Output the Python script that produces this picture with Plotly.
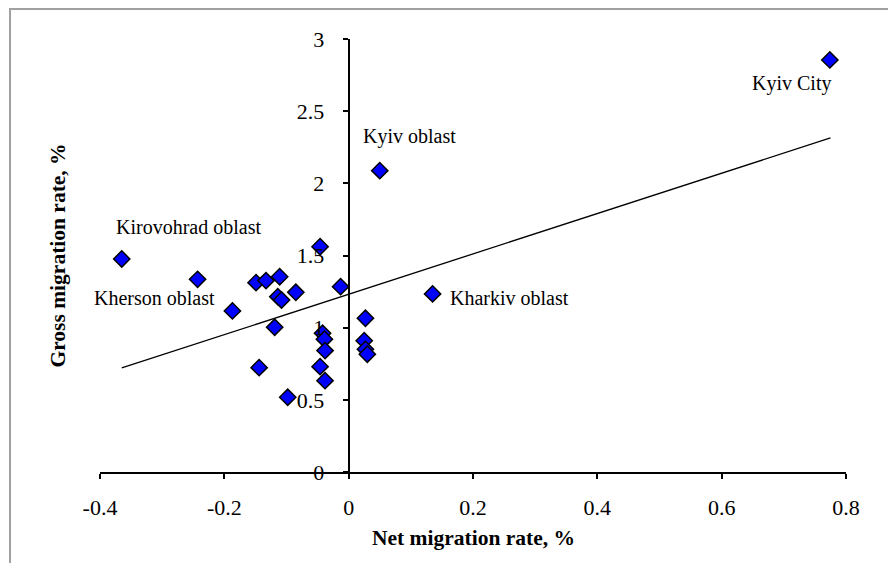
import plotly.graph_objects as go

# Net migration rate (%) and gross migration rate (%) by region
net_rate = [-0.365, -0.243, -0.149, -0.133, -0.111, -0.085, -0.114, -0.108, -0.187,
            -0.119, -0.144, -0.098, -0.046, -0.013, -0.042, -0.039, -0.038, -0.046,
            -0.038, 0.027, 0.025, 0.027, 0.030, 0.050, 0.135, 0.774]
gross_rate = [1.476, 1.335, 1.312, 1.326, 1.353, 1.245, 1.215, 1.192, 1.116,
              1.003, 0.723, 0.518, 1.561, 1.284, 0.961, 0.920, 0.841, 0.730,
              0.633, 1.065, 0.910, 0.850, 0.816, 2.088, 1.234, 2.855]

# Linear trend line endpoints
trend_x = [-0.365, 0.775]
trend_y = [0.721, 2.315]

# Region labels and their positions
label_text = ["Kyiv City", "Kyiv oblast", "Kirovohrad oblast", "Kherson oblast", "Kharkiv oblast"]
label_x = [0.713, 0.098, -0.257, -0.312, 0.259]
label_y = [2.69, 2.325, 1.70, 1.205, 1.205]

x_ticks = [-0.4, -0.2, 0, 0.2, 0.4, 0.6, 0.8]
x_ticktext = ["-0.4", "-0.2", "0", "0.2", "0.4", "0.6", "0.8"]
y_ticks = [0, 0.5, 1, 1.5, 2, 2.5, 3]
y_ticktext = ["0", "0.5", "1", "1.5", "2", "2.5", "3"]

FONT = "Liberation Serif"

fig = go.Figure()
fig.add_trace(go.Scatter(x=trend_x, y=trend_y, mode="lines",
                         line=dict(color="black", width=1.3), hoverinfo="skip"))
fig.add_trace(go.Scatter(x=net_rate, y=gross_rate, mode="markers",
                         marker=dict(symbol="diamond", size=12.5, color="#0000FF",
                                     line=dict(color="black", width=1.5))))

for t, x, y in zip(label_text, label_x, label_y):
    fig.add_annotation(x=x, y=y, text=t, showarrow=False, xref="x", yref="y",
                       xanchor="center", yanchor="middle",
                       font=dict(family=FONT, size=20, color="black"))

fig.add_annotation(x=0.5, y=-0.152, xref="paper", yref="paper", showarrow=False,
                   text="<b>Net migration rate, %</b>", xanchor="center", yanchor="middle",
                   font=dict(family=FONT, size=21.5, color="black"))
fig.add_annotation(x=-0.0576, y=0.5, xref="paper", yref="paper", showarrow=False,
                   text="<b>Gross migration rate, %</b>", textangle=-90,
                   xanchor="center", yanchor="middle",
                   font=dict(family=FONT, size=21.5, color="black"))

# outer frame
fig.add_shape(type="rect", xref="paper", yref="paper",
              x0=-0.1206, x1=1.08, y0=-0.25, y1=1.0693,
              line=dict(color="#a0a0a0", width=2), fillcolor="rgba(0,0,0,0)", layer="below")

fig.update_layout(
    width=888, height=563,
    margin=dict(l=100, r=42, t=39, b=91),
    paper_bgcolor="white", plot_bgcolor="white",
    showlegend=False,
    font=dict(family=FONT, size=21, color="black"),
    xaxis=dict(range=[-0.4, 0.8], tickvals=x_ticks, ticktext=x_ticktext,
               showgrid=False, zeroline=False, showline=True, linecolor="black",
               linewidth=2, ticks="outside", ticklen=5, tickwidth=1.5, tickcolor="black",
               ticklabelstandoff=10, tickfont=dict(family=FONT, size=22, color="black")),
    yaxis=dict(range=[0, 3], tickvals=y_ticks, ticktext=y_ticktext,
               anchor="free", position=1/3,
               showgrid=False, zeroline=False, showline=True, linecolor="black",
               linewidth=2, ticks="outside", ticklen=5, tickwidth=1.5, tickcolor="black",
               ticklabelstandoff=14, tickfont=dict(family=FONT, size=22, color="black")),
)

fig.write_html("out.html")
